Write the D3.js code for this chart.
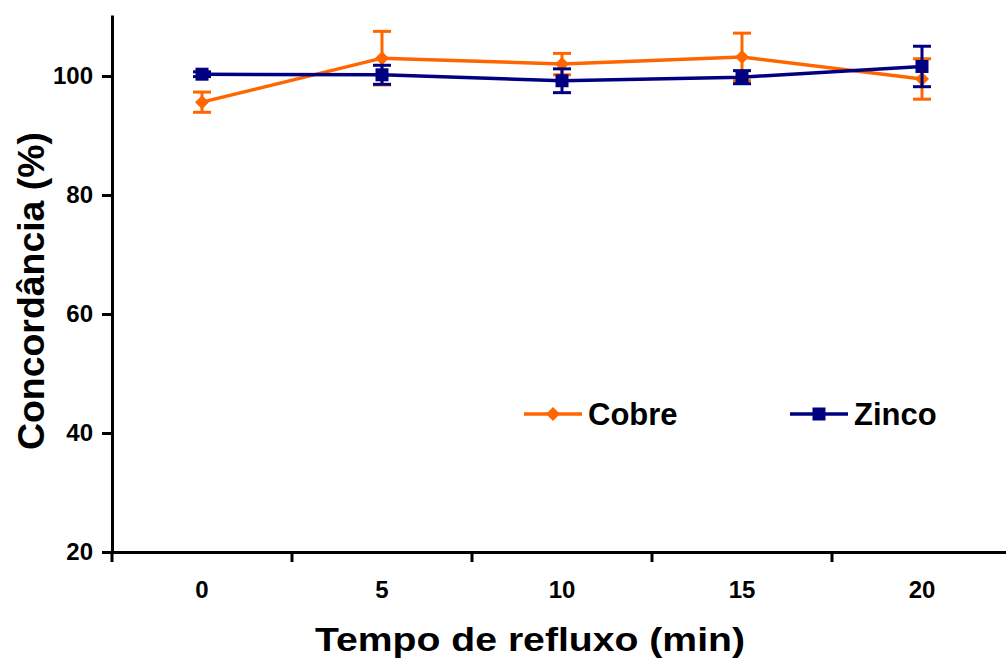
<!DOCTYPE html>
<html>
<head>
<meta charset="utf-8">
<script src="https://cdn.jsdelivr.net/npm/d3@7"></script>
<style>
  body { margin: 0; background: #fff; }
  text { font-family: "Liberation Sans", Arial, sans-serif; font-weight: bold; }
</style>
</head>
<body>
<svg id="chart"></svg>
<script>
    // Data: reflux time vs agreement (%)
    const tempos = ["0", "5", "10", "15", "20"];
    const cobre = [95.6, 103.0, 102.0, 103.2, 99.5];
    const cobreErro = [1.7, 4.5, 1.8, 4.0, 3.4];
    const zinco = [100.3, 100.2, 99.2, 99.8, 101.6];
    const zincoErro = [0.4, 1.6, 2.0, 1.1, 3.4];
    const yTicks = [20, 40, 60, 80, 100];

    const width = 1006;
    const height = 661;

    const svg = d3.select('#chart')
        .attr('width', width)
        .attr('height', height);

    // scales
    const x = d3.scaleBand()
        .domain(tempos)
        .range([112, 1012])
        .padding(0);

    const y = d3.scaleLinear()
        .domain([20, 110.25])
        .range([552, 15]);

    const cx = d => x(d) + x.bandwidth() / 2;

    // axes
    const xAxis = svg.append('g')
        .attr('transform', 'translate(0, 552)')
        .call(d3.axisBottom(x).tickSize(0).tickSizeOuter(0).tickPadding(29));

    // tick marks between categories
    xAxis.selectAll('.sep')
        .data(tempos)
        .enter()
        .append('line')
        .attr('class', 'sep')
        .attr('x1', d => x(d))
        .attr('x2', d => x(d))
        .attr('y1', 0)
        .attr('y2', 10);

    const yAxis = svg.append('g')
        .attr('transform', 'translate(112, 0)')
        .call(d3.axisLeft(y).tickValues(yTicks).tickSize(10).tickSizeOuter(0).tickPadding(9));

    svg.selectAll('.domain, .tick line, .sep')
        .attr('stroke', '#000')
        .attr('stroke-width', 3);

    svg.selectAll('.tick text')
        .attr('fill', '#000')
        .style('font-size', '24px');

    // draw one series
    function drawSeries(values, errors, color, shape) {
        const g = svg.append('g');
        const capW = 9;

        values.forEach((v, i) => {
            const px = cx(tempos[i]);
            const top = y(v + errors[i]);
            const bottom = y(v - errors[i]);
            g.append('line')
                .attr('x1', px).attr('x2', px)
                .attr('y1', top).attr('y2', bottom)
                .attr('stroke', color).attr('stroke-width', 3);
            [top, bottom].forEach(cy => {
                g.append('line')
                    .attr('x1', px - capW).attr('x2', px + capW)
                    .attr('y1', cy).attr('y2', cy)
                    .attr('stroke', color).attr('stroke-width', 3);
            });
        });

        g.append('path')
            .datum(values)
            .attr('fill', 'none')
            .attr('stroke', color)
            .attr('stroke-width', 3.5)
            .attr('d', d3.line().x((d, i) => cx(tempos[i])).y(d => y(d)));

        g.selectAll('.marker')
            .data(values)
            .enter()
            .append('path')
            .attr('class', 'marker')
            .attr('transform', (d, i) => `translate(${cx(tempos[i])}, ${y(d)})`)
            .attr('d', shape)
            .attr('fill', color);
    }

    const diamond = 'M0,-7L7,0L0,7L-7,0Z';
    const square = 'M-6.5,-6.5H6.5V6.5H-6.5Z';

    drawSeries(cobre, cobreErro, '#FF6600', diamond);
    drawSeries(zinco, zincoErro, '#000080', square);

    // legend
    const legendItems = [
        { name: 'Cobre', color: '#FF6600', shape: diamond, x: 524 },
        { name: 'Zinco', color: '#000080', shape: square, x: 790 }
    ];

    const legend = svg.selectAll('.legend-item')
        .data(legendItems)
        .enter()
        .append('g')
        .attr('class', 'legend-item')
        .attr('transform', d => `translate(${d.x}, 414)`);

    legend.append('line')
        .attr('x1', 0).attr('x2', 58)
        .attr('y1', 0).attr('y2', 0)
        .attr('stroke', d => d.color)
        .attr('stroke-width', 3.5);

    legend.append('path')
        .attr('transform', 'translate(29, 0)')
        .attr('d', d => d.shape)
        .attr('fill', d => d.color);

    legend.append('text')
        .attr('x', 64)
        .attr('y', 11)
        .style('font-size', '31px')
        .text(d => d.name);

    // axis titles
    svg.append('text')
        .attr('x', 530)
        .attr('y', 651)
        .attr('text-anchor', 'middle')
        .attr('textLength', 430)
        .attr('lengthAdjust', 'spacingAndGlyphs')
        .style('font-size', '34px')
        .text('Tempo de refluxo (min)');

    svg.append('text')
        .attr('transform', 'rotate(-90)')
        .attr('x', -291)
        .attr('y', 44)
        .attr('text-anchor', 'middle')
        .attr('textLength', 318)
        .attr('lengthAdjust', 'spacingAndGlyphs')
        .style('font-size', '37px')
        .text('Concordância (%)');
</script>
</body>
</html>
